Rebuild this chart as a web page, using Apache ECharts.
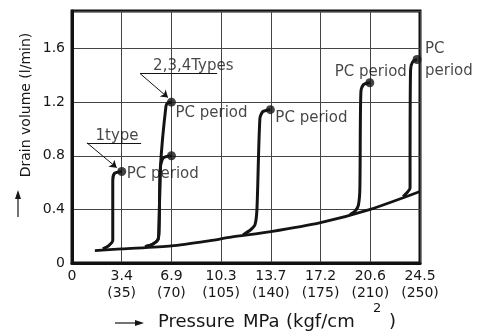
<!DOCTYPE html>
<html><head><meta charset="utf-8">
<script src="https://cdn.jsdelivr.net/npm/echarts@6/dist/echarts.min.js"></script>
<style>html,body{margin:0;padding:0;background:#fff}#c{width:484px;height:332px}</style>
</head><body><div id="c"></div>
<script>
// x positions are in tick-slot units (0..7), one slot per labelled pressure
const xTickMPa = ['0','3.4','6.9','10.3','13.7','17.2','20.6','24.5'];
const xTickKgf = ['','(35)','(70)','(105)','(140)','(175)','(210)','(250)'];
const yTicks = [0, 0.4, 0.8, 1.2, 1.6];

// base drain curve
const baseCurve = [[0.46,0.092],[1,0.105],[2,0.128],[2.78,0.167],[3.2,0.193],[4,0.234],[5,0.301],[6,0.40],[7,0.533]];
// PC-period branches
const branch1 = [[0.62,0.105],[0.74,0.13],[0.82,0.17],[0.82,0.3],[0.82,0.62],[0.86,0.67],[1.0,0.683]];
const branch2a = [[1.47,0.122],[1.62,0.14],[1.73,0.175],[1.75,0.26],[1.78,0.72],[1.84,0.785],[2.0,0.80]];
const branch2b = [[1.47,0.122],[1.62,0.14],[1.73,0.175],[1.75,0.26],[1.78,0.72],[1.89,1.17],[1.93,1.195],[2.0,1.20]];
const branch3 = [[3.44,0.209],[3.6,0.25],[3.68,0.284],[3.72,0.4],[3.78,1.08],[3.84,1.13],[3.99,1.144]];
const branch4 = [[5.59,0.36],[5.7,0.39],[5.76,0.43],[5.79,0.55],[5.81,1.27],[5.86,1.33],[5.99,1.345]];
const branch5 = [[6.66,0.496],[6.75,0.53],[6.8,0.56],[6.8,0.7],[6.81,1.44],[6.85,1.5],[6.94,1.518]];
// PC period points and labels
const pcX = [1.0, 2.0, 2.0, 3.99, 5.99, 6.94];
const pcY = [0.683, 0.80, 1.20, 1.144, 1.345, 1.518];
const pcLabel = ['PC period', '', 'PC period', 'PC period', 'PC period', 'PC\nperiod'];
// annotations (data units)
const noteText = ['1type', '2,3,4Types'];
const noteTextPos = [[0.905,0.949],[2.44,1.466]];
const noteUnderline = [[[0.30,0.897],[1.39,0.897]], [[1.37,1.413],[2.92,1.413]]];
const noteArrow = [[[0.30,0.897],[0.90,0.711]], [[1.37,1.413],[1.93,1.234]]];

// label layout (style, not data)
const pcLabelLayout = [
  {align:'left', offset:[5,3]}, null, {align:'left', offset:[4,11]},
  {align:'left', offset:[5,8]}, {align:'center', offset:[1,-11]},
  {align:'left', offset:[8,1], lineHeight:22}
];

const FONT = 'DejaVu Sans';
const INK = '#141414';
const TXT = '#161616';
const chart = echarts.init(document.getElementById('c'), null, {renderer:'canvas'});

function curve(data, w){
  return {type:'line', data:data, smooth:0.25, showSymbol:false, symbol:'none',
    lineStyle:{color:INK, width:w}, z:3, animation:false, silent:true};
}

const pcData = pcX.map((x,i)=>{
  const lay = pcLabelLayout[i];
  const d = {value:[x,pcY[i]]};
  if (lay) {
    d.label = {show:true, formatter:pcLabel[i], position:'inside', align:lay.align,
      verticalAlign:'middle', offset:lay.offset, lineHeight:lay.lineHeight||16,
      color:TXT, fontFamily:FONT, fontSize:15};
  }
  return d;
});

chart.setOption({
  animation:false,
  grid:{left:72, right:64, top:11, bottom:69, show:true, borderColor:'#111', borderWidth:3, backgroundColor:'transparent'},
  xAxis:{type:'value', min:0, max:7, interval:1,
    axisLine:{show:true, lineStyle:{color:'#111', width:3}}, axisTick:{show:false},
    splitLine:{show:true, lineStyle:{color:'#444', width:1}},
    axisLabel:{margin:5, color:TXT, fontFamily:FONT, fontSize:14, lineHeight:17,
      formatter:v=>{const i=Math.round(v); return xTickKgf[i] ? xTickMPa[i]+'\n'+xTickKgf[i] : xTickMPa[i];}}},
  yAxis:{type:'value', min:0, max:1.88, interval:0.4,
    axisLine:{show:true, lineStyle:{color:'#111', width:3}}, axisTick:{show:false},
    splitLine:{show:true, lineStyle:{color:'#444', width:1}},
    axisLabel:{margin:7, color:TXT, fontFamily:FONT, fontSize:14,
      formatter:v=>{const t=yTicks.find(k=>Math.abs(k-v)<1e-6); return t===undefined?'':(t===0?'0':t.toFixed(1));}}},
  series:[
    curve(baseCurve,2.8),
    curve(branch1,3), curve(branch2a,3), curve(branch2b,3),
    curve(branch3,3), curve(branch4,3), curve(branch5,3),
    {type:'scatter', data:pcData, symbol:'circle', symbolSize:9,
      itemStyle:{color:INK}, z:5, silent:true},
    {type:'lines', coordinateSystem:'cartesian2d', polyline:false,
      data:noteUnderline.map(c=>({coords:c})), symbol:['none','none'],
      lineStyle:{color:INK, width:1, opacity:1}, z:4, silent:true},
    {type:'lines', coordinateSystem:'cartesian2d', polyline:false,
      data:noteArrow.map(c=>({coords:c})), symbol:['none','arrow'], symbolSize:7,
      lineStyle:{color:INK, width:1, opacity:1}, z:4, silent:true},
    {type:'scatter', symbolSize:0, silent:true, z:6,
      data:noteText.map((t,i)=>({value:noteTextPos[i], name:t})),
      label:{show:true, position:'inside', formatter:p=>p.name, color:TXT,
        fontFamily:FONT, fontSize:15}}
  ],
  graphic:[
    {type:'text', x:26, y:105, rotation:Math.PI/2,
      style:{text:'Drain volume (l/min)', font:'14px "DejaVu Sans"', fill:TXT, textAlign:'center', textVerticalAlign:'middle'}},
    {type:'line', shape:{x1:18, y1:217, x2:18, y2:196}, style:{stroke:TXT, lineWidth:1.2}},
    {type:'polygon', shape:{points:[[18,190],[15,199],[21,199]]}, style:{fill:TXT}},
    {type:'line', shape:{x1:115, y1:323, x2:137, y2:323}, style:{stroke:TXT, lineWidth:1.2}},
    {type:'polygon', shape:{points:[[144,323],[135,320],[135,326]]}, style:{fill:TXT}},
    {type:'text', x:158, y:322, style:{text:'Pressure', font:'18px "DejaVu Sans"', fill:TXT, textVerticalAlign:'middle'}},
    {type:'text', x:243, y:322, style:{text:'MPa', font:'18px "DejaVu Sans"', fill:TXT, textVerticalAlign:'middle'}},
    {type:'text', x:286, y:322, style:{text:'(kgf/cm', font:'18px "DejaVu Sans"', fill:TXT, textVerticalAlign:'middle'}},
    {type:'text', x:373, y:309, style:{text:'2', font:'13px "DejaVu Sans"', fill:TXT, textVerticalAlign:'middle'}},
    {type:'text', x:389, y:322, style:{text:')', font:'18px "DejaVu Sans"', fill:TXT, textVerticalAlign:'middle'}}
  ]
});
</script></body></html>
